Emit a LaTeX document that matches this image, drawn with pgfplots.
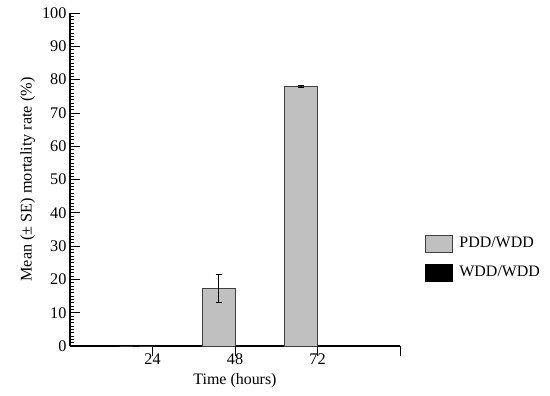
\documentclass[border=0pt]{standalone}
\usepackage{fontspec}
\setmainfont{Liberation Serif}
\usepackage{pgfplots}
\pgfplotsset{compat=1.18}
\definecolor{barfill}{RGB}{192,192,192}
\begin{document}
\fontsize{16}{19}\selectfont
\begin{tikzpicture}[x=1bp,y=1bp]
\useasboundingbox (0,0) rectangle (550,395);
\begin{axis}[
  at={(70bp,49bp)}, anchor=south west,
  scale only axis, width=330bp, height=333bp,
  xmin=0, xmax=4, ymin=0, ymax=100,
  axis x line=bottom, axis y line=left,
  axis line style={-, line width=1.1pt},
  tick align=inside,
  major tick length=10bp, minor tick length=4bp,
  tick style={black, line width=0.8pt},
  minor tick style={line width=0.6pt},
  xtick={1,2,3,4}, xticklabels={24,48,72,{}},
  ytick={0,10,...,100}, minor y tick num=9,
  /pgf/number format/assume math mode=true,
  ticklabel style={font=\fontsize{16.3}{19}\selectfont},
  yticklabel style={xshift=2bp},
  xticklabel style={yshift=8bp},
  xlabel={Time (hours)}, ylabel={Mean (± SE) mortality rate (\%)},
  xlabel style={at={(axis description cs:0.5,-0.105)}, anchor=center, font=\fontsize{16}{19}\selectfont},
  ylabel style={at={(axis description cs:-0.128,0.5)}, anchor=center, font=\fontsize{16.3}{19}\selectfont},
  clip=false,
  ybar, bar width=0.4,
  legend cell align=left,
  legend style={at={(axis description cs:1.065,0.34)}, anchor=north west, draw=none, fill=none,
    font=\fontsize{16}{19}\selectfont, row sep=11bp,
    /tikz/every odd column/.append style={column sep=5bp}},
  legend image code/.code={\draw[#1, line width=0.8pt] (0bp,-8.5bp) rectangle (27bp,8.5bp);},
]
\addplot[fill=barfill, draw=black!75, line width=0.8pt, bar shift=-0.2,
  error bars/.cd, y dir=both, y explicit, error bar style={black, line width=0.9pt},
  error mark options={rotate=90, mark size=3bp, black, line width=0.9pt}]
  coordinates {(1,0) +- (0,0) (2,17.3) +- (0,4.3) (3,77.9) +- (0,0.3)};
\addplot[fill=black, draw=black, line width=0.8pt, bar shift=0.2]
  coordinates {(1,0) (2,0) (3,0)};
\legend{PDD/WDD, WDD/WDD}
\end{axis}
\end{tikzpicture}
\end{document}
